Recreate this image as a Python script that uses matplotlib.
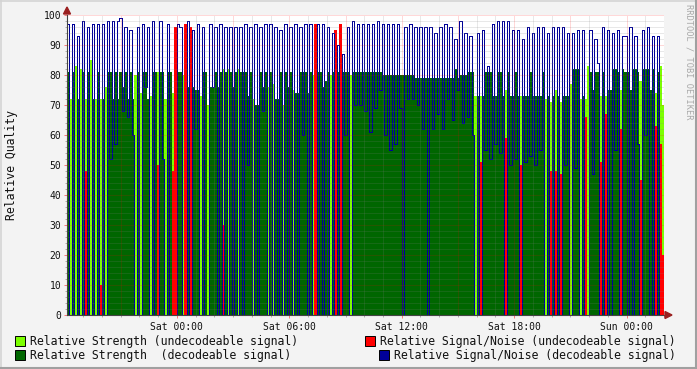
import numpy as np
import matplotlib.pyplot as plt
from matplotlib.patches import Rectangle, Polygon
from matplotlib.lines import Line2D

plt.rcParams['font.family'] = ['DejaVu Sans Mono']

W, H = 697, 369

# samples every 8 minutes, first one at Fri 18:08 (minutes relative to Sat 00:00)
step = 8
start = -352

# Relative Signal/Noise, decodeable (0 where the signal could not be decoded)
snr = [97, 0, 97, 0, 93, 0, 98, 0, 96, 0,
       97, 0, 97, 0, 97, 0, 98, 52, 98, 57,
       98, 99, 68, 96, 66, 95, 60, 0, 96, 0,
       97, 76, 96, 0, 98, 0, 0, 98, 52, 0,
       97, 0, 0, 0, 97, 96, 0, 0, 98, 0,
       95, 62, 97, 0, 96, 0, 0, 97, 76, 96,
       0, 97, 0, 96, 0, 96, 0, 96, 0, 96,
       0, 97, 50, 96, 0, 97, 0, 96, 68, 97,
       0, 97, 0, 96, 0, 95, 0, 97, 0, 96,
       0, 97, 0, 96, 60, 97, 0, 97, 0, 0,
       97, 0, 97, 0, 96, 0, 94, 0, 90, 0,
       87, 60, 96, 0, 98, 70, 97, 70, 97, 68,
       97, 61, 97, 69, 98, 75, 97, 60, 97, 55,
       97, 57, 97, 69, 0, 96, 72, 97, 72, 96,
       70, 96, 62, 96, 0, 96, 62, 94, 67, 96,
       62, 97, 72, 96, 65, 92, 75, 98, 64, 94,
       66, 93, 60, 0, 94, 0, 95, 55, 83, 52,
       97, 57, 98, 54, 98, 0, 98, 50, 95, 52,
       95, 0, 92, 51, 96, 53, 94, 50, 96, 55,
       96, 0, 94, 0, 96, 0, 96, 0, 96, 50,
       94, 0, 94, 49, 95, 0, 95, 0, 0, 95,
       47, 92, 84, 0, 96, 0, 95, 0, 94, 55,
       95, 0, 93, 93, 0, 96, 0, 93, 57, 0,
       95, 60, 96, 0, 93, 0, 93, 0, 0]

# Relative Strength, decodeable
strength = [81, 0, 81, 0, 72, 0, 81, 0, 81, 0,
            72, 0, 81, 0, 72, 0, 81, 81, 72, 81,
            72, 81, 76, 81, 72, 81, 72, 0, 81, 0,
            81, 81, 72, 0, 81, 81, 0, 81, 81, 0,
            81, 81, 0, 0, 81, 81, 0, 0, 76, 0,
            76, 75, 75, 0, 81, 81, 0, 76, 76, 81,
            76, 81, 0, 81, 0, 81, 76, 81, 0, 81,
            81, 81, 73, 81, 0, 70, 70, 81, 76, 81,
            0, 81, 0, 72, 72, 81, 0, 81, 76, 81,
            0, 74, 74, 81, 81, 81, 74, 81, 0, 0,
            81, 81, 76, 78, 81, 0, 81, 0, 81, 0,
            81, 81, 81, 0, 81, 81, 81, 81, 81, 81,
            81, 81, 81, 81, 81, 81, 80, 80, 80, 80,
            80, 80, 80, 80, 80, 80, 80, 80, 80, 79,
            79, 79, 79, 79, 79, 79, 79, 79, 79, 79,
            79, 79, 79, 79, 79, 82, 79, 80, 80, 80,
            81, 81, 81, 0, 73, 0, 73, 81, 81, 81,
            73, 73, 81, 81, 73, 0, 81, 73, 73, 81,
            73, 0, 73, 73, 73, 81, 73, 73, 73, 73,
            81, 0, 73, 0, 73, 0, 73, 0, 73, 73,
            73, 0, 82, 82, 82, 0, 73, 0, 0, 81,
            75, 81, 81, 0, 81, 0, 75, 75, 82, 82,
            81, 0, 82, 81, 81, 75, 82, 82, 81, 0,
            82, 82, 82, 75, 82, 0, 81, 0, 0]

# undecodeable samples: index, strength, signal/noise
undec_idx = [1, 3, 5, 7, 9, 11, 13, 15, 27, 29, 33, 36, 39, 42, 43, 46, 47, 49,
             53, 56, 62, 64, 68, 74, 80, 82, 86, 90, 98, 99, 105, 107, 109, 113,
             163, 165, 175, 181, 191, 193, 195, 197, 201, 205, 207, 208, 213, 215,
             221, 229, 235, 237, 238]
undec_strength = [72, 83, 82, 72, 85, 72, 72, 76, 80, 74, 73, 81, 72, 74, 80, 80, 70, 80,
                  73, 70, 82, 82, 82, 72, 76, 77, 70, 75, 80, 76, 80, 60, 62, 80,
                  73, 73, 75, 73, 72, 71, 75, 71, 77, 72, 72, 83, 73, 73,
                  75, 78, 74, 83, 70]
undec_snr = [0, 0, 0, 48, 0, 0, 10, 0, 0, 0, 0, 50, 0, 48, 96, 0, 97, 96,
             0, 0, 30, 0, 0, 0, 0, 0, 0, 0, 0, 97, 0, 95, 97, 0,
             0, 51, 59, 50, 0, 48, 48, 47, 0, 0, 66, 0, 51, 67,
             62, 45, 63, 57, 20]

tick_pos = [0, 360, 720, 1080, 1440]
tick_labels = ['Sat 00:00', 'Sat 06:00', 'Sat 12:00', 'Sat 18:00', 'Sun 00:00']

n = len(snr)
u_str = np.zeros(n); u_str[undec_idx] = undec_strength
u_snr = np.zeros(n); u_snr[undec_idx] = undec_snr
t = start + step * np.arange(n + 1)


def ext(v):
    v = np.asarray(v, dtype=float)
    return np.append(v, v[-1])


fig = plt.figure(figsize=(W / 100, H / 100), dpi=100)
fig.patch.set_facecolor('#f3f3f3')
ax = fig.add_axes([67 / W, 1 - 315 / H, 597 / W, 300 / H])
ax.set_facecolor('white')

c_light, c_red, c_dark, c_blue = '#7cff00', '#ff0000', '#006600', '#000099'

ax.fill_between(t, ext(u_str), step='post', color=c_light, lw=0, zorder=1,
                antialiased=False)
ax.fill_between(t, ext(u_snr), step='post', color=c_red, lw=0, zorder=2,
                antialiased=False)
ax.fill_between(t, ext(strength), step='post', color=c_dark, lw=0, zorder=3,
                antialiased=False)
ax.step(t, ext(snr), where='post', color=c_blue, lw=0.72, zorder=4,
        antialiased=False)

ax.set_xlim(t[0], t[-1])
ax.set_ylim(0, 100)

# grid, drawn over the data like rrdtool does
minor_col = (0.5, 0.5, 0.5, 0.35)
major_col = (1.0, 0.0, 0.0, 0.3)
dot = (0, (1, 1))
for m in range(-300, 1561, 60):
    if m % 180:
        ax.axvline(m, color=minor_col, ls=dot, lw=0.72, zorder=5)
for m in range(-180, 1561, 180):
    ax.axvline(m, color=major_col, ls=dot, lw=0.72, zorder=6)
for v in range(2, 101, 2):
    if v % 10:
        ax.axhline(v, color=minor_col, ls=dot, lw=0.72, zorder=5)
for v in range(10, 101, 10):
    ax.axhline(v, color=major_col, ls=dot, lw=0.72, zorder=6)

ax.set_xticks(tick_pos)
ax.set_xticklabels(tick_labels)
ax.set_xticks(range(-300, 1561, 60), minor=True)
ax.set_yticks(range(0, 101, 10))
ax.set_yticks(range(0, 101, 2), minor=True)
ax.tick_params(which='major', length=2, width=0.7, color=(1, 0, 0, 0.5),
               labelsize=7, pad=2, labelcolor='#111111')
ax.tick_params(which='minor', length=1.5, width=0.7, color=(0.5, 0.5, 0.5, 0.6))
ax.tick_params(axis='x', pad=3)

for s in ['top', 'right']:
    ax.spines[s].set_visible(False)
for s in ['left', 'bottom']:
    ax.spines[s].set_color('#444444')
    ax.spines[s].set_linewidth(0.8)
    ax.spines[s].set_zorder(7)


def fx(px):
    return px / W


def fy(py):
    return 1 - py / H


arrow_col = '#9a2020'
fig.add_artist(Polygon([(fx(67), fy(7)), (fx(63.5), fy(14)), (fx(70.5), fy(14))],
                       closed=True, color=arrow_col, transform=fig.transFigure))
fig.add_artist(Polygon([(fx(672), fy(315)), (fx(665), fy(311.5)), (fx(665), fy(318.5))],
                       closed=True, color=arrow_col, transform=fig.transFigure))

fig.text(fx(12), fy(165), 'Relative Quality', rotation=90, ha='center', va='center',
         fontsize=8.3, color='#111111')
fig.text(fx(689), fy(62), 'RRDTOOL / TOBI OETIKER', rotation=270, ha='center',
         va='center', fontsize=6.2, color='#a8a8a8')

legend = [
    (15, 341, c_light, 'Relative Strength (undecodeable signal)'),
    (365, 341, c_red, 'Relative Signal/Noise (undecodeable signal)'),
    (15, 355, c_dark, 'Relative Strength  (decodeable signal)'),
    (379, 355, c_blue, 'Relative Signal/Noise (decodeable signal)'),
]
for x0, yc, col, label in legend:
    fig.add_artist(Rectangle((fx(x0), fy(yc + 5)), 10 / W, 10 / H, facecolor=col,
                             edgecolor='black', lw=0.7, transform=fig.transFigure))
    fig.text(fx(x0 + 15), fy(yc), label, ha='left', va='center', fontsize=8.3,
             color='#111111')

# 3d-ish frame around the image
fig.add_artist(Line2D([0, 1], [fy(0.5), fy(0.5)], color='#d4d4d4', lw=1.2,
                      transform=fig.transFigure))
fig.add_artist(Line2D([fx(0.5), fx(0.5)], [0, 1], color='#d4d4d4', lw=1.2,
                      transform=fig.transFigure))
fig.add_artist(Line2D([0, 1], [fy(368), fy(368)], color='#a0a0a0', lw=1.5,
                      transform=fig.transFigure))
fig.add_artist(Line2D([fx(696), fx(696)], [0, 1], color='#a0a0a0', lw=1.5,
                      transform=fig.transFigure))

fig.savefig('out.png', dpi=100, facecolor=fig.get_facecolor())
